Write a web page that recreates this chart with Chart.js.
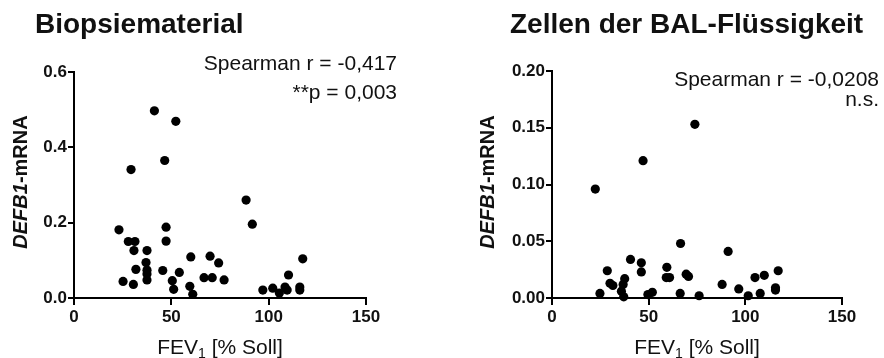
<!DOCTYPE html>
<html lang="de">
<head>
<meta charset="UTF-8">
<title>DEFB1-mRNA vs. FEV1</title>
<style>
  body { margin: 0; background: #fff; }
  .panel { position: absolute; top: 0; width: 442px; height: 358px; }
  #left { left: 0; }
  #right { left: 442px; }
</style>
</head>
<body>
<div class="panel" id="left"><canvas id="biopsieChart" width="442" height="358"></canvas></div>
<div class="panel" id="right"><canvas id="balChart" width="442" height="358"></canvas></div>
<script src="https://cdn.jsdelivr.net/npm/chart.js"></script>
<script>
// Biopsiematerial: FEV1 (% Soll) und DEFB1-mRNA
const fev1Biopsie = [23.1, 27.9, 31.3, 30.8, 37.5, 37.0, 31.8, 37.5, 37.5, 37.5, 25.2, 30.5,
  41.3, 52.3, 46.6, 29.3, 47.3, 47.3, 45.6, 50.5, 51.2, 54.1, 60.0, 59.5, 61.0,
  69.9, 74.3, 66.8, 71.0, 77.1, 88.4, 91.6, 97.0, 102.1, 105.5, 108.4, 109.5, 110.2,
  116.0, 116.0, 117.5];
const defb1Biopsie = [0.181, 0.150, 0.150, 0.126, 0.126, 0.094, 0.076, 0.074, 0.064, 0.048, 0.044, 0.036,
  0.497, 0.469, 0.365, 0.341, 0.188, 0.151, 0.073, 0.046, 0.023, 0.068, 0.109, 0.031, 0.010,
  0.111, 0.093, 0.054, 0.054, 0.048, 0.260, 0.196, 0.021, 0.026, 0.013, 0.029, 0.021, 0.061,
  0.029, 0.021, 0.104];

// Zellen der BAL-Flüssigkeit
const fev1Bal = [22.4, 47.1, 73.9, 24.8, 28.6, 30.0, 31.5, 37.6, 36.8, 35.9, 37.1, 40.6, 46.2, 46.2,
  49.6, 51.9, 59.4, 59.1, 60.8, 66.5, 66.3, 69.4, 70.6, 76.1, 88.0, 91.1, 96.6,
  101.5, 105.0, 107.7, 109.8, 115.6, 115.6, 117.0];
const defb1Bal = [0.096, 0.121, 0.153, 0.004, 0.024, 0.013, 0.011, 0.017, 0.012, 0.006, 0.001, 0.034, 0.031, 0.023,
  0.003, 0.005, 0.027, 0.018, 0.018, 0.048, 0.004, 0.021, 0.019, 0.002, 0.012, 0.041, 0.008,
  0.002, 0.018, 0.004, 0.020, 0.009, 0.007, 0.024];

const xTicks = [0, 50, 100, 150];
const yTicksBiopsie = [0, 0.2, 0.4, 0.6];
const yTicksBal = [0, 0.05, 0.10, 0.15, 0.20];

const FONT = 'Arial, "Liberation Sans", sans-serif';
const INK = '#111';

// titles, axis labels and the Spearman text are drawn here
const labelsPlugin = {
  id: 'labels',
  afterDraw(chart, args, o) {
    const ctx = chart.ctx;
    const area = chart.chartArea;
    ctx.save();
    ctx.fillStyle = INK;

    ctx.font = 'bold 28px ' + FONT;
    ctx.textAlign = 'left';
    ctx.textBaseline = 'alphabetic';
    ctx.fillText(o.title, o.titleX, 33);

    // FEV1 [% Soll]
    const cx = (area.left + area.right) / 2;
    ctx.font = '21px ' + FONT;
    const w1 = ctx.measureText('FEV').width;
    const w3 = ctx.measureText(' [% Soll]').width;
    ctx.font = '14px ' + FONT;
    const w2 = ctx.measureText('1').width;
    let x = cx - (w1 + w2 + w3) / 2;
    ctx.font = '21px ' + FONT;
    ctx.fillText('FEV', x, 354);
    ctx.font = '14px ' + FONT;
    ctx.fillText('1', x + w1, 358);
    ctx.font = '21px ' + FONT;
    ctx.fillText(' [% Soll]', x + w1 + w2, 354);

    // DEFB1-mRNA, rotated
    ctx.save();
    ctx.translate(o.yLabelX, 182);
    ctx.rotate(-Math.PI / 2);
    ctx.font = 'italic bold 20px ' + FONT;
    const a = ctx.measureText('DEFB1').width;
    ctx.font = 'bold 20px ' + FONT;
    const b = ctx.measureText('-mRNA').width;
    ctx.font = 'italic bold 20px ' + FONT;
    ctx.fillText('DEFB1', -(a + b) / 2, 0);
    ctx.font = 'bold 20px ' + FONT;
    ctx.fillText('-mRNA', -(a + b) / 2 + a, 0);
    ctx.restore();

    ctx.font = '21px ' + FONT;
    ctx.textAlign = 'right';
    o.stats.forEach(s => ctx.fillText(s.text, o.statsX, s.y));
    ctx.restore();
  }
};

function makeChart(id, xs, ys, yTicks, yMax, digits, pad, yWidth, labels) {
  const points = xs.map((x, i) => ({ x: x, y: ys[i] }));
  return new Chart(document.getElementById(id), {
    type: 'scatter',
    data: {
      datasets: [{
        data: points,
        backgroundColor: '#000',
        borderWidth: 0,
        pointRadius: 4.6,
        clip: false
      }]
    },
    options: {
      responsive: false,
      animation: false,
      layout: { padding: pad },
      plugins: {
        legend: { display: false },
        tooltip: { enabled: false },
        labels: labels
      },
      scales: {
        x: {
          min: 0, max: 150,
          afterBuildTicks: s => { s.ticks = xTicks.map(v => ({ value: v })); },
          afterFit: s => { s.height = 60; },
          grid: { drawOnChartArea: false, drawTicks: true, tickLength: 7, color: '#000', lineWidth: 2 },
          border: { display: true, color: '#000', width: 2 },
          ticks: { color: INK, font: { family: FONT, size: 17, weight: 'bold' }, padding: 2, maxRotation: 0 }
        },
        y: {
          min: 0, max: yMax,
          afterBuildTicks: s => { s.ticks = yTicks.map(v => ({ value: v })); },
          afterFit: s => { s.width = yWidth; },
          grid: { drawOnChartArea: false, drawTicks: true, tickLength: 6, color: '#000', lineWidth: 2 },
          border: { display: true, color: '#000', width: 2 },
          ticks: {
            color: INK, font: { family: FONT, size: 17, weight: 'bold' }, padding: 1,
            callback: v => Number(v).toFixed(digits)
          }
        }
      }
    },
    plugins: [labelsPlugin]
  });
}

makeChart('biopsieChart', fev1Biopsie, defb1Biopsie, yTicksBiopsie, 0.6, 1,
  { left: 0, top: 72, right: 76, bottom: 0 }, 74,
  {
    title: 'Biopsiematerial', titleX: 35, yLabelX: 27, statsX: 397,
    stats: [{ text: 'Spearman r = -0,417', y: 70 }, { text: '**p = 0,003', y: 99 }]
  });

makeChart('balChart', fev1Bal, defb1Bal, yTicksBal, 0.2, 2,
  { left: 0, top: 71, right: 42, bottom: 0 }, 110,
  {
    title: 'Zellen der BAL-Flüssigkeit', titleX: 68, yLabelX: 52, statsX: 437,
    stats: [{ text: 'Spearman r = -0,0208', y: 86 }, { text: 'n.s.', y: 106 }]
  });
</script>
</body>
</html>
